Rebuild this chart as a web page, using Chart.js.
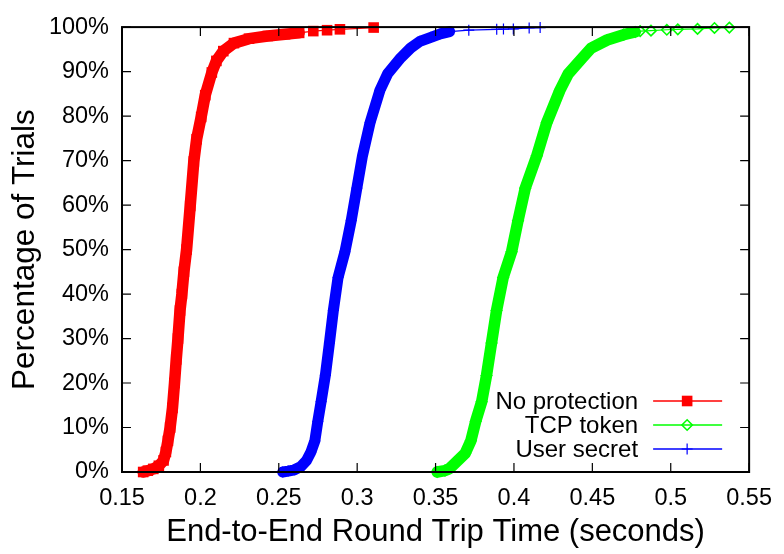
<!DOCTYPE html>
<html>
<head>
<meta charset="utf-8">
<script src="https://cdn.jsdelivr.net/npm/chart.js@4.4.1/dist/chart.umd.min.js"></script>
<style>
html,body{margin:0;padding:0;background:#ffffff;}
canvas{display:block;}
</style>
</head>
<body>
<canvas id="c" width="784" height="554"></canvas>
<script>
// ---------------- DATA ----------------
const seriesNames = ['No protection', 'TCP token', 'User secret'];

// No protection: round trip time (s) and cumulative percentage of trials
const noProtectionX = [0.1635, 0.1665, 0.1700, 0.1735, 0.1765, 0.1780, 0.1793, 0.1807, 0.1822, 0.1835,
  0.1846, 0.1857, 0.1870, 0.1882, 0.1895, 0.1912, 0.1935, 0.1958, 0.1976, 0.2005,
  0.2031, 0.2073, 0.2102, 0.2146, 0.2214, 0.2310, 0.2430, 0.2540, 0.2630, 0.2720,
  0.2808, 0.2890, 0.3105];
const noProtectionY = [0.0, 0.3, 0.7, 1.4, 2.6, 4.5, 7.0, 10.0, 14.4, 20.0,
  25.3, 30.0, 36.3, 40.0, 45.0, 50.0, 59.8, 69.8, 74.8, 79.8,
  84.7, 89.8, 92.4, 94.6, 96.4, 97.4, 98.0, 98.4, 98.7, 99.1,
  99.3, 99.5, 99.9];

// TCP token
const tcpTokenX = [0.3510, 0.3560, 0.3590, 0.3625, 0.3689, 0.3725, 0.3756, 0.3794, 0.3825, 0.3857,
  0.3889, 0.3931, 0.3985, 0.4026, 0.4072, 0.4146, 0.4209, 0.4293, 0.4346, 0.4437,
  0.4493, 0.4594, 0.4700, 0.4773, 0.4805, 0.4874, 0.4975, 0.5045, 0.5171, 0.5279,
  0.5374];
const tcpTokenY = [0.0, 0.3, 0.8, 2.0, 4.2, 7.0, 11.4, 15.8, 21.7, 29.0,
  36.3, 43.7, 49.5, 56.5, 63.8, 71.1, 78.5, 85.8, 89.5, 93.1,
  95.3, 97.1, 98.3, 98.9, 99.1, 99.2, 99.4, 99.5, 99.6, 99.8,
  99.9];

// User secret
const userSecretX = [0.2525, 0.2560, 0.2600, 0.2640, 0.2677, 0.2705, 0.2730, 0.2749, 0.2770, 0.2797,
  0.2823, 0.2848, 0.2878, 0.2922, 0.2962, 0.2998, 0.3034, 0.3082, 0.3145, 0.3194,
  0.3278, 0.3341, 0.3400, 0.3470, 0.3530, 0.3590, 0.3712, 0.3890, 0.3933, 0.3996,
  0.4097, 0.4167];
const userSecretY = [0.0, 0.2, 0.5, 1.2, 2.6, 4.5, 7.0, 11.4, 15.8, 21.7,
  29.0, 36.3, 43.7, 49.5, 56.5, 63.8, 71.1, 78.5, 85.8, 89.5,
  93.1, 95.3, 96.8, 97.7, 98.5, 99.0, 99.3, 99.5, 99.55, 99.6,
  99.8, 99.9];

const xTickValues = [0.15, 0.2, 0.25, 0.3, 0.35, 0.4, 0.45, 0.5, 0.55];
const xTickLabels = ['0.15', '0.2', '0.25', '0.3', '0.35', '0.4', '0.45', '0.5', '0.55'];
const yTickValues = [0, 10, 20, 30, 40, 50, 60, 70, 80, 90, 100];
const yTickLabels = ['0%', '10%', '20%', '30%', '40%', '50%', '60%', '70%', '80%', '90%', '100%'];

const xTitle = 'End-to-End Round Trip Time (seconds)';
const yTitle = 'Percentage of Trials';

// ---------------- STYLE ----------------
const FONT = "'Liberation Sans', Arial, Helvetica, sans-serif";
const styles = [
  {color: '#ff0000', pointStyle: 'rect', radius: 7.5, fill: '#ff0000', pbw: 0, bandEnd: 0.2640, bandW: 11.5},
  {color: '#00ff00', pointStyle: 'rectRot', radius: 5.2, fill: 'rgba(0,0,0,0)', pbw: 1.6, bandEnd: 0.4780, bandW: 11.5},
  {color: '#0000ff', pointStyle: 'cross', radius: 5.5, fill: 'rgba(0,0,0,0)', pbw: 1.2, bandEnd: 0.3600, bandW: 11}
];

const zip = (xs, ys) => xs.map((x, i) => ({x: x, y: ys[i]}));
const seriesData = [zip(noProtectionX, noProtectionY), zip(tcpTokenX, tcpTokenY), zip(userSecretX, userSecretY)];

const datasets = seriesData.map((d, i) => {
  const s = styles[i];
  return {
    label: seriesNames[i],
    data: d,
    showLine: true,
    borderColor: s.color,
    borderWidth: 1.2,
    borderJoinStyle: 'round',
    borderCapStyle: 'round',
    backgroundColor: s.fill,
    pointStyle: s.pointStyle,
    pointRadius: s.radius,
    pointHoverRadius: s.radius,
    pointBackgroundColor: s.fill,
    pointBorderColor: s.color,
    pointBorderWidth: s.pbw,
    clip: false,
    segment: {
      borderWidth: c => (c.p1.parsed.x <= s.bandEnd ? s.bandW : 1.2)
    }
  };
});

// gnuplot-like frame with inward mirrored ticks
const framePlugin = {
  id: 'frame',
  afterDatasetsDraw(chart) {
    const {ctx, chartArea: a, scales} = chart;
    ctx.save();
    ctx.strokeStyle = '#000';
    ctx.lineWidth = 1.2;
    const tl = 9;
    ctx.beginPath();
    xTickValues.forEach(v => {
      const px = scales.x.getPixelForValue(v);
      ctx.moveTo(px, a.bottom); ctx.lineTo(px, a.bottom - tl);
      ctx.moveTo(px, a.top); ctx.lineTo(px, a.top + tl);
    });
    yTickValues.forEach(v => {
      const py = scales.y.getPixelForValue(v);
      ctx.moveTo(a.left, py); ctx.lineTo(a.left + tl, py);
      ctx.moveTo(a.right, py); ctx.lineTo(a.right - tl, py);
    });
    ctx.stroke();
    ctx.lineWidth = 2;
    ctx.strokeRect(a.left, a.top, a.right - a.left, a.bottom - a.top);
    ctx.restore();
  }
};

// gnuplot-style key: text right aligned, then line sample with marker
const keyPlugin = {
  id: 'key',
  afterDraw(chart) {
    const {ctx, chartArea: a} = chart;
    ctx.save();
    const textRight = a.right - 111;
    const lineStart = a.right - 96;
    const lineEnd = a.right - 27;
    const markX = a.right - 62;
    const rowY = [401, 425, 449];
    ctx.font = '24px ' + FONT;
    ctx.textAlign = 'right';
    ctx.textBaseline = 'middle';
    seriesNames.forEach((name, i) => {
      const s = styles[i];
      const y = rowY[i];
      ctx.fillStyle = '#000';
      ctx.fillText(name, textRight, y + 1);
      ctx.strokeStyle = s.color;
      ctx.lineWidth = 1.5;
      ctx.beginPath();
      ctx.moveTo(lineStart, y); ctx.lineTo(lineEnd, y);
      ctx.stroke();
      ctx.fillStyle = s.fill;
      ctx.lineWidth = s.pbw;
      Chart.helpers.drawPoint(ctx, {pointStyle: s.pointStyle, radius: s.radius, rotation: 0, borderWidth: s.pbw}, markX, y);
    });
    ctx.restore();
  }
};

new Chart(document.getElementById('c'), {
  type: 'scatter',
  data: {datasets: datasets},
  options: {
    responsive: false,
    animation: false,
    devicePixelRatio: 1,
    layout: {padding: {top: 17, right: 29, left: 0, bottom: 0}},
    plugins: {legend: {display: false}, tooltip: {enabled: false}},
    scales: {
      x: {
        type: 'linear', min: 0.15, max: 0.55,
        afterBuildTicks: sc => { sc.ticks = xTickValues.map(v => ({value: v})); },
        afterFit: sc => { sc.height = 82; },
        grid: {display: false, drawTicks: false},
        border: {display: false},
        ticks: {
          color: '#000', padding: 12,
          font: {family: FONT, size: 23.5},
          maxRotation: 0, autoSkip: false,
          callback: v => xTickLabels[xTickValues.findIndex(t => Math.abs(t - v) < 1e-9)]
        },
        title: {display: true, text: xTitle, color: '#000', font: {family: FONT, size: 31}, padding: {top: 0, bottom: 3}}
      },
      y: {
        type: 'linear', min: 0, max: 100,
        afterBuildTicks: sc => { sc.ticks = yTickValues.map(v => ({value: v})); },
        afterFit: sc => { sc.width = 122; },
        grid: {display: false, drawTicks: false},
        border: {display: false},
        ticks: {
          color: '#000', padding: 13,
          font: {family: FONT, size: 23.5},
          autoSkip: false,
          callback: v => yTickLabels[yTickValues.indexOf(v)]
        },
        title: {display: true, text: yTitle, color: '#000', font: {family: FONT, size: 31.5}, padding: {top: 6, bottom: 0}}
      }
    }
  },
  plugins: [framePlugin, keyPlugin]
});
</script>
</body>
</html>
